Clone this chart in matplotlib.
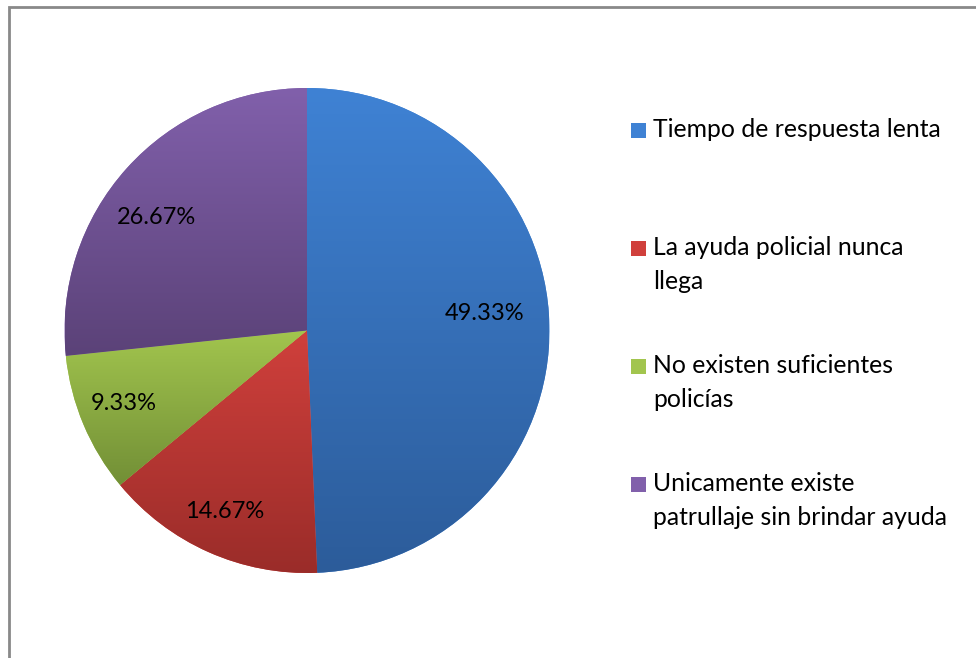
import numpy as np
import matplotlib.pyplot as plt
from matplotlib.colors import LinearSegmentedColormap
from matplotlib.patches import Rectangle

labels = ['Tiempo de respuesta lenta',
          'La ayuda policial nunca\nllega',
          'No existen suficientes\npolicías',
          'Unicamente existe\npatrullaje sin brindar ayuda']
values = [49.33, 14.67, 9.33, 26.67]
top_colors = ['#3f82d4', '#d0403c', '#a2c54e', '#8160ab']
bottom_colors = ['#2c5c9a', '#9a2c29', '#728f36', '#5b4278']

plt.rcParams['font.family'] = ['Lato', 'DejaVu Sans']

W, H = 976, 658
fig = plt.figure(figsize=(W / 100, H / 100), dpi=100)

# chart frame (cut off at right/bottom)
fig.patches.append(Rectangle((9 / W, -0.1), 1.2, 1 - 7 / H + 0.1, transform=fig.transFigure,
                             fill=False, edgecolor='#898989', linewidth=2))

cx, cy, r = 307, 330.5, 242.5
ax = fig.add_axes([(cx - r) / W, 1 - (cy + r) / H, 2 * r / W, 2 * r / H])
wedges, texts = ax.pie(values, startangle=90, counterclock=False, radius=1,
                       colors=top_colors, wedgeprops=dict(linewidth=0))
ax.set_xlim(-1, 1)
ax.set_ylim(-1, 1)
ax.set_aspect('equal')
ax.axis('off')

fig.canvas.draw()
grad = np.linspace(0, 1, 256).reshape(-1, 1)
for w, c1, c2 in zip(wedges, top_colors, bottom_colors):
    path = w.get_path().transformed(w.get_patch_transform())
    x0, y0 = path.vertices.min(axis=0)
    x1, y1 = path.vertices.max(axis=0)
    cmap = LinearSegmentedColormap.from_list('g', [c1, c2])
    im = ax.imshow(grad, cmap=cmap, extent=[x0, x1, y0, y1], origin='upper',
                   aspect='auto', zorder=2, interpolation='bilinear')
    im.set_clip_path(w)
ax.set_xlim(-1, 1)
ax.set_ylim(-1, 1)

# percentage labels
label_pos = [(485, 314), (225, 512), (124, 403), (157, 217)]
for v, (px, py) in zip(values, label_pos):
    fig.text(px / W, 1 - py / H, f'{v:.2f}%', ha='center', va='center',
             fontsize=17, color='black')

# legend
entry_y = [130, 248, 366, 484]
for lab, c, ey in zip(labels, top_colors, entry_y):
    fig.patches.append(Rectangle((631 / W, 1 - (ey + 7.5) / H), 15 / W, 15 / H,
                                 transform=fig.transFigure, facecolor=c, edgecolor='none'))
    fig.text(653 / W, 1 - (ey - 12) / H, lab, ha='left', va='top',
             fontsize=17.8, color='black', linespacing=1.58)

fig.savefig('out.png', dpi=100)
